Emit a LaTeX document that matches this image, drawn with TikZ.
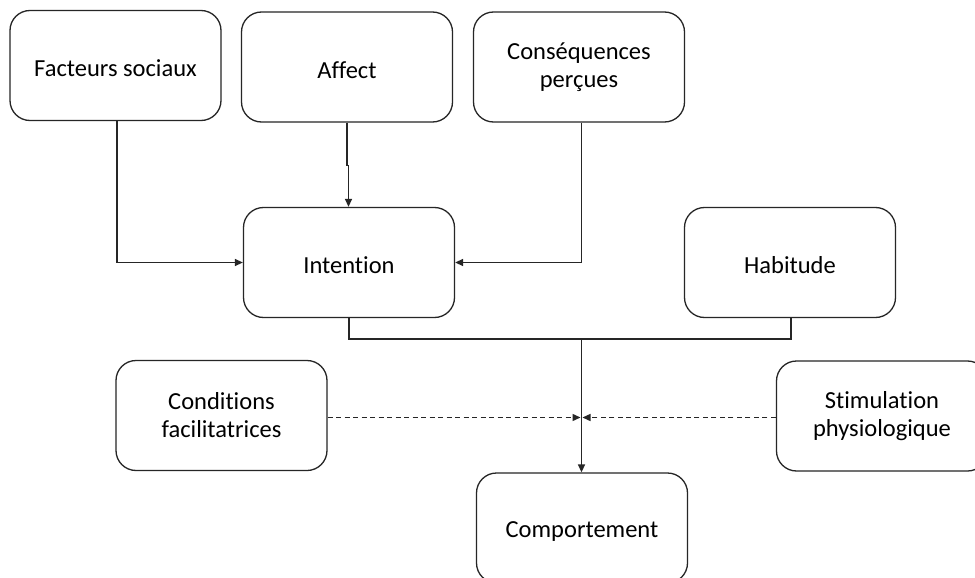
\documentclass[tikz,border=0pt]{standalone}
\usepackage{fontspec}
\setmainfont[Ligatures={NoCommon}]{Carlito}
\usetikzlibrary{arrows.meta}
\begin{document}
\begin{tikzpicture}[x=1pt,y=-1pt,
  box/.style={draw=black!85,line width=1.3pt,rounded corners=20pt,minimum width=211pt,minimum height=110pt,align=center,font=\fontsize{24.5}{28}\selectfont,inner sep=0pt,execute at begin node={\rule{0pt}{23pt}}},
  conn/.style={draw=black!85,line width=1.4pt},
  arr/.style={conn,-{Triangle[length=8pt,width=7pt]}},
  dsh/.style={arr,dash pattern=on 5pt off 3.5pt}]
\clip (0,0) rectangle (975,578);
\fill[white] (0,0) rectangle (975,578);
\node[box] (fs) at (115.5,65.5) {Facteurs sociaux};
\node[box] (af) at (347,67) {Affect};
\node[box] (cp) at (579,67) {Conséquences\\perçues};
\node[box] (in) at (349,262.5) {Intention};
\node[box] (ha) at (790,262.5) {Habitude};
\node[box] (cf) at (221.5,415.5) {Conditions\\facilitatrices};
\node[box] (sp) at (882,416) {Stimulation\\physiologique};
\node[box] (co) at (582,528) {Comportement};
\draw[arr] ([xshift=1.5pt]fs.south) |- (in.west);
\draw[conn] (af.south) -- ++(0,43) coordinate (ak) -- ++(1.5,0);
\draw[arr] ([xshift=1.5pt]ak) -- ([xshift=1.5pt]af.south |- in.north);
\draw[arr] ([xshift=2.5pt]cp.south) |- (in.east);
\coordinate (j) at (581.5,339);
\draw[conn] (in.south) |- (j) -| ([xshift=1pt]ha.south);
\draw[arr] (j) -- (co.north -| j);
\coordinate (ml) at (580.5,417.5);
\coordinate (mr) at (582.5,417.5);
\draw[dsh] (cf.east |- ml) -- (ml);
\draw[dsh] (sp.west |- mr) -- (mr);
\end{tikzpicture}
\end{document}
